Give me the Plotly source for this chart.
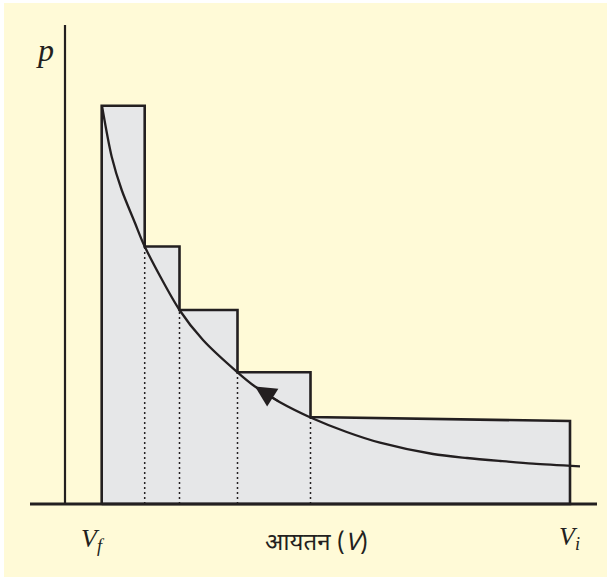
import plotly.graph_objects as go

# ---- data (V and p in arbitrary drawing units) ----
step_edges = [36.7, 79.7, 114.5, 172.5, 245.5, 505.0]     # V boundaries of the steps
step_p_left = [398.3, 257.5, 194.0, 131.7, 87.0]          # step top at its left edge
step_p_right = [398.3, 257.5, 194.0, 131.7, 83.0]         # step top at its right edge

curve_V = [37, 46.7, 56.7, 70, 79.7, 114.5, 138, 172.5, 190, 215, 245.5,
           281.7, 315, 368, 402, 435, 468, 515]
curve_p = [398, 347.3, 314, 281, 257.5, 194, 164, 131.7, 117.5, 101.7, 86.5,
           72, 61.3, 50, 46, 43, 40.3, 37.7]

arrow_idx = 8          # arrow tip sits on this curve point, pointing toward smaller V

axis_x_span = [-35, 532]   # extent of the horizontal (V) axis line
axis_y_top = 479           # top of the vertical (p) axis line

label_p = "<i>p</i>"
label_Vf = "<i>V</i><sub><i>f</i></sub>"
label_Vi = "<i>V</i><sub><i>i</i></sub>"
label_x = "आयतन (<i>V</i>)"

# ---- styling ----
INK = "#231F20"
FILL = "#E6E7E8"
BG = "#FFFAD7"
SERIF = "Liberation Serif, Times New Roman, serif"

fig = go.Figure()

# staircase outline built from the step arrays
poly_x = [step_edges[0]]
poly_y = [0]
for i in range(len(step_p_left)):
    poly_x += [step_edges[i], step_edges[i + 1]]
    poly_y += [step_p_left[i], step_p_right[i]]
poly_x += [step_edges[-1], step_edges[0]]
poly_y += [0, 0]
fig.add_trace(go.Scatter(x=poly_x, y=poly_y, mode="lines", fill="toself",
                         fillcolor=FILL, line=dict(color=INK, width=2.6),
                         hoverinfo="skip", showlegend=False))

# dotted dividers inside the staircase
for i in range(1, len(step_p_left)):
    fig.add_trace(go.Scatter(x=[step_edges[i], step_edges[i]], y=[0, step_p_left[i]],
                             mode="lines", line=dict(color=INK, width=1.5, dash="2px,3px"),
                             hoverinfo="skip", showlegend=False))

# isotherm curve
fig.add_trace(go.Scatter(x=curve_V, y=curve_p, mode="lines",
                         line=dict(color=INK, width=2.3, shape="spline", smoothing=0.8),
                         hoverinfo="skip", showlegend=False))

# axes lines
fig.add_trace(go.Scatter(x=axis_x_span, y=[0, 0], mode="lines",
                         line=dict(color=INK, width=2.8), hoverinfo="skip", showlegend=False))
fig.add_trace(go.Scatter(x=[0, 0], y=[0, axis_y_top], mode="lines",
                         line=dict(color=INK, width=2.2), hoverinfo="skip", showlegend=False))

# direction arrow on the curve
fig.add_annotation(x=curve_V[arrow_idx], y=curve_p[arrow_idx],
                   ax=curve_V[arrow_idx + 1], ay=curve_p[arrow_idx + 1],
                   xref="x", yref="y", axref="x", ayref="y",
                   text="", showarrow=True, arrowhead=2, arrowsize=2.1,
                   arrowwidth=2.0, arrowcolor=INK)

# labels
fig.add_annotation(x=-20, y=454, text=label_p, showarrow=False,
                   font=dict(family=SERIF, size=32, color=INK))
fig.add_annotation(x=28, y=-36, text=label_Vf, showarrow=False,
                   font=dict(family=SERIF, size=26, color=INK))
fig.add_annotation(x=504, y=-34, text=label_Vi, showarrow=False,
                   font=dict(family=SERIF, size=26, color=INK))
fig.add_annotation(x=251, y=-40, text=label_x, showarrow=False,
                   font=dict(family="Noto Sans Devanagari, Lohit Devanagari, FreeSans, Noto Sans, sans-serif",
                             size=24, color=INK))

fig.update_layout(
    width=607, height=577,
    margin=dict(l=4, r=0, t=3, b=0),
    paper_bgcolor="white", plot_bgcolor=BG,
    xaxis=dict(range=[-61, 542], visible=False, fixedrange=True),
    yaxis=dict(range=[-73, 501], visible=False, fixedrange=True),
    showlegend=False,
)

fig.write_html("out.html", config={"displayModeBar": False},
               post_script="document.body.style.margin='0';document.body.style.overflow='hidden';")
